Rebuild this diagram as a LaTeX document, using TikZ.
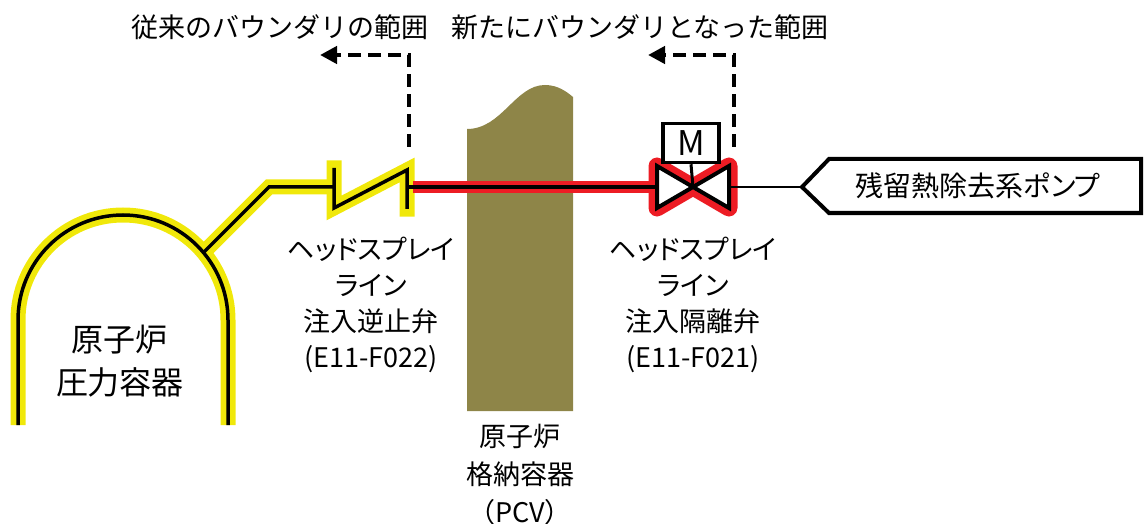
\documentclass[tikz,border=0pt]{standalone}
\usepackage{fontspec}
\setmainfont{Noto Sans CJK JP}[RawFeature=+palt]
\newfontfamily\jpfull{Noto Sans CJK JP}
\usetikzlibrary{arrows.meta}
\definecolor{pcvolive}{RGB}{142,133,72}
\definecolor{bndyellow}{RGB}{240,232,10}
\definecolor{bndred}{RGB}{237,28,36}
\tikzset{
  yband/.style={line width=15pt, draw=bndyellow, line cap=rect, line join=miter},
  pipe/.style={line width=3.5pt, draw=black},
  dasharrow/.style={line width=4.5pt, dash pattern=on 13pt off 7pt, -{Triangle[length=17pt,width=17pt]}},
  lbl/.style={align=center, font=\fontsize{27}{36}\selectfont, inner sep=0pt},
}
\begin{document}
\begin{tikzpicture}[x=1pt,y=-1pt]
\useasboundingbox (0,0) rectangle (1144,524);
% containment vessel
\fill[pcvolive] (467,411) -- (467,129) .. controls (502,129) and (515,85) .. (545,85)
  .. controls (558,85) and (567,92) .. (573,97) -- (573,411) -- cycle;
% coordinates
\coordinate (vl) at (18,425);
\coordinate (vr) at (228,425);
\coordinate (noz) at (204,252);
\coordinate (bend) at (269,187);
\coordinate (cvl) at (334,187);
\coordinate (cvr) at (407,187);
\coordinate (gvl) at (657,187);
\coordinate (gvr) at (729,187);
\coordinate (gvc) at (693,187);
% yellow band
\draw[yband, line cap=butt] (vl) -- (18,320) arc (180:360:105) -- (vr);
\draw[yband, line cap=butt] (noz) -- (bend) -- (cvl);
\draw[yband] (334,168) -- (334,208) -- (407,170) -- (407,209);
\draw[yband, line cap=butt] (cvr) -- (413,187);
% red pipe
\draw[line width=12pt, draw=bndred] (413,187) -- (gvl);
% red outline of gate valve
\draw[line width=17pt, draw=bndred, fill=bndred, line join=round]
  (657,166) -- (657,208) -- (729,166) -- (729,208) -- cycle;
% black lines
\draw[pipe] (18,425) -- (18,320) arc (180:360:105) -- (228,425);
\draw[pipe] (noz) -- (bend) -- (cvl);
\draw[pipe] (334,168) -- (334,208) -- (407,170) -- (407,209);
\draw[pipe] (cvr) -- (gvl);
% gate valve
\draw[line width=4pt, fill=white, line join=miter]
  (657,166) -- (657,208) -- (729,166) -- (729,208) -- cycle;
\node[draw, line width=3.5pt, minimum width=56pt, minimum height=39pt, inner sep=0pt,
  font=\fontsize{34}{34}\selectfont] (motor) at (691,143) {M};
\draw[line width=3pt] (motor.south) -- (gvc);
% pump
\node[inner sep=0pt, font=\fontsize{28}{30}\selectfont] (pump) at (978,186) {残留熱除去系ポンプ};
\coordinate (ptip) at (802,187);
\draw[line width=2pt] (gvr) -- (ptip);
\draw[line width=4pt, line join=miter] (ptip) -- (829,159) -- (1141,159) -- (1141,213) -- (829,213) -- cycle;
% boundary arrows
\coordinate (a1s) at (409,147);
\coordinate (a1c) at (409,55);
\coordinate (a1e) at (320,55);
\coordinate (a2s) at (734,147);
\coordinate (a2c) at (734,55);
\coordinate (a2e) at (648,55);
\draw[dasharrow] (a1s) -- (a1c) -- (a1e);
\draw[dasharrow] (a2s) -- (a2c) -- (a2e);
\node[inner sep=0pt, font=\jpfull\fontsize{27}{30}\selectfont] (old) at (280,27) {従来のバウンダリの範囲};
\node[inner sep=0pt, font=\jpfull\fontsize{27}{30}\selectfont] (new) at (640,27) {新たにバウンダリとなった範囲};
% labels
\node[lbl] (cvlbl) at (371,305) {ヘッドスプレイ\\ライン\\注入逆止弁\\(E11-F022)};
\node[lbl] (gvlbl) at (693,305) {ヘッドスプレイ\\ライン\\注入隔離弁\\(E11-F021)};
\node[lbl, font=\fontsize{27}{38}\selectfont] (pcvlbl) at (520,475) {原子炉\\格納容器\\{\jpfull （PCV）}};
\node[lbl, font=\fontsize{32}{43}\selectfont] (rpvlbl) at (120,361) {原子炉\\圧力容器};
\end{tikzpicture}
\end{document}
